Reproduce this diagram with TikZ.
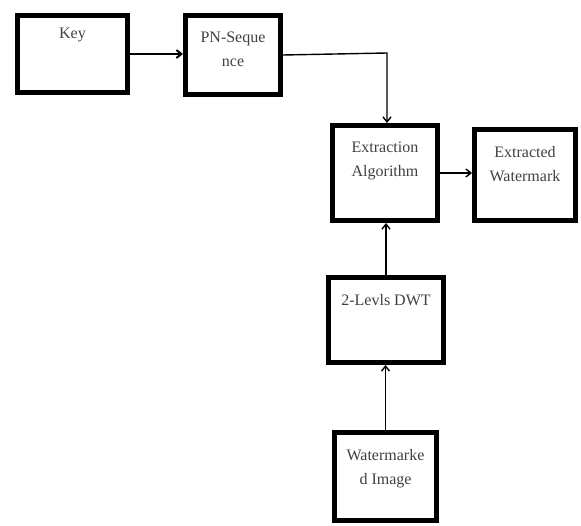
\documentclass[tikz,border=0pt]{standalone}
\usepackage{fontspec}
\setmainfont{Liberation Serif}
\usetikzlibrary{arrows.meta}
\tikzset{
  block/.style={draw, line width=5pt, inner sep=0pt, minimum width=#1},
  block/.default=100pt,
  lbl/.style={anchor=north, yshift=-19pt, inner sep=0pt, align=center, font=\rmfamily\fontsize{16}{24}\selectfont, text=black!75},
  flow/.style={-{Straight Barb[length=5pt,width=8pt]}, line width=1.4pt}
}
\begin{document}
\begin{tikzpicture}[x=1pt,y=-1pt]
  \useasboundingbox (0,0) rectangle (581,525);
  % top row
  \node[block=110pt, minimum height=77pt, label={[lbl,yshift=4pt]north:Key}] (key) at (72.5,54) {};
  \node[block=95pt, minimum height=79pt, label={[lbl]north:PN-Seque\\nce}] (pn) at (233,55) {};
  % extraction and output
  \node[block=105pt, minimum height=95pt, label={[lbl]north:Extraction\\Algorithm}] (extr) at (385,173) {};
  \node[block=101pt, minimum height=91pt, label={[lbl]north:Extracted\\Watermark}] (wm) at (525,175) {};
  % input chain
  \node[block=115pt, minimum height=85pt, label={[lbl]north:2-Levls DWT}] (dwt) at (386,320) {};
  \node[block=102pt, minimum height=88pt, label={[lbl]north:Watermarke\\d Image}] (img) at (385.5,476.5) {};
  \coordinate (bend) at (387,53);

  \draw[flow, line width=2pt] (key.east) -- (key.east -| pn.west);
  \draw[flow] (pn.east) -- (bend) -- (bend |- extr.north);
  \draw[flow] (extr.east) -- (extr.east -| wm.west);
  \draw[flow] (dwt.north) -- (dwt.north |- extr.south);
  \draw[flow] (img.north) -- (img.north |- dwt.south);
\end{tikzpicture}
\end{document}
